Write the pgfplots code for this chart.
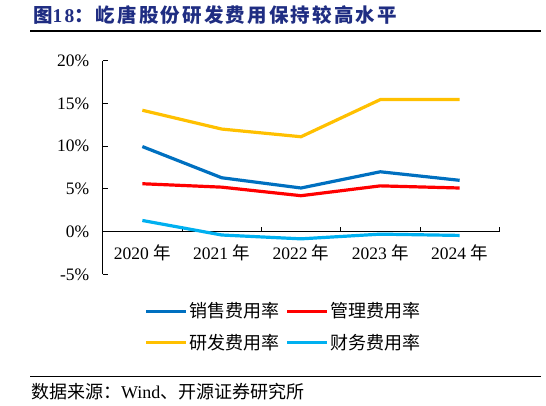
\documentclass[border=0pt]{standalone}
\usepackage{fontspec}
\setmainfont{Liberation Serif}
\newfontfamily\cjk{Noto Sans CJK SC}
\newfontfamily\cjkt[LetterSpace=11]{Noto Sans CJK SC}
\newfontfamily\latt[LetterSpace=11]{Liberation Serif}
\usepackage{pgfplots}
\pgfplotsset{compat=1.18}
\definecolor{cSales}{HTML}{0070C0}
\definecolor{cAdmin}{HTML}{FF0000}
\definecolor{cRD}{HTML}{FFC000}
\definecolor{cFin}{HTML}{00B0F0}
\definecolor{titleblue}{RGB}{31,45,130}
\begin{document}
\begin{tikzpicture}
\useasboundingbox (0pt,0pt) rectangle (546pt,405pt);
\begin{axis}[
  at={(102.7pt,130.7pt)}, anchor=south west,
  scale only axis, width=396.6pt, height=213.6pt,
  xmin=-0.5, xmax=4.5, ymin=-5, ymax=20,
  axis y line=left, axis x line=middle,
  axis line style={-, line width=0.8pt, black},
  hide obscured x ticks=false, hide obscured y ticks=false,
  xtick={0,1,2,3,4},
  xticklabels={2020 {\cjk 年},2021 {\cjk 年},2022 {\cjk 年},2023 {\cjk 年},2024 {\cjk 年}},
  major x tick style={draw=none},
  minor xtick={0.5,1.5,2.5,3.5,4.5},
  ytick={-5,0,5,10,15,20},
  yticklabels={-5\%,0\%,5\%,10\%,15\%,20\%},
  tick align=inside, major tick length=5pt, minor tick length=5pt,
  tick style={black, line width=0.8pt},
  ticklabel style={font=\fontsize{17.5}{20}\selectfont},
  xticklabel style={yshift=-10pt},
  yticklabel style={xshift=-10pt},
  clip=false,
  legend columns=2,
  legend cell align=left,
  legend style={at={(0.4554,-0.2467)}, anchor=center, draw=none, fill=none,
    font=\cjk\fontsize{18}{20}\selectfont, row sep=12pt,
    nodes={inner sep=1.5pt},
    /tikz/every even column/.append style={column sep=5pt}},
  legend image code/.code={\draw[#1] (0pt,0pt) -- (40pt,0pt);},
  every axis plot/.append style={line width=3.2pt, line join=round},
]
\addplot[cSales] coordinates {(0,9.95) (1,6.3) (2,5.1) (3,7.0) (4,6.0)};
\addlegendentry{销售费用率}
\addplot[cAdmin] coordinates {(0,5.6) (1,5.2) (2,4.2) (3,5.35) (4,5.1)};
\addlegendentry{管理费用率}
\addplot[cRD] coordinates {(0,14.2) (1,12.0) (2,11.1) (3,15.45) (4,15.45)};
\addlegendentry{研发费用率}
\addplot[cFin] coordinates {(0,1.3) (1,-0.4) (2,-0.85) (3,-0.3) (4,-0.45)};
\addlegendentry{财务费用率}
\end{axis}
\node[anchor=west, inner sep=0pt, text=titleblue, font=\fontsize{19.5}{22}\selectfont\bfseries] at (33pt,389.5pt)
  {{\cjkt 图}{\latt 18}{\cjkt ：屹唐股份研发费用保持较高水平}};
\draw[line width=1.3pt] (30pt,374pt) -- (541pt,374pt);
\draw[line width=1.3pt] (30pt,28.3pt) -- (541pt,28.3pt);
\node[anchor=west, inner sep=0pt, font=\fontsize{18}{20}\selectfont] at (31pt,13pt)
  {{\cjk 数据来源：}Wind{\cjk 、开源证券研究所}};
\end{tikzpicture}
\end{document}
